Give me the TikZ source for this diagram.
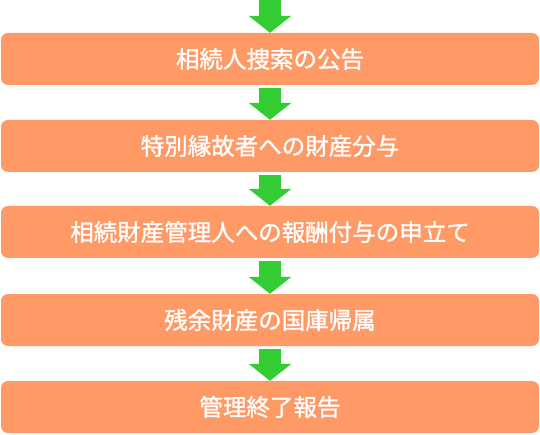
\documentclass[tikz,border=0pt]{standalone}
\usepackage{fontspec}
\setmainfont{Noto Sans CJK JP}
\newfontfamily\stepfont{Noto Sans CJK JP}[FakeBold=1.2]
\usetikzlibrary{arrows.meta}
\definecolor{boxorange}{RGB}{255,153,102}
\definecolor{arrowgreen}{RGB}{51,204,51}

\begin{document}
\begin{tikzpicture}[x=1pt,y=1pt,yscale=-1,xscale=1,
	stepbox/.style={fill=boxorange,rounded corners=7pt,minimum width=538pt,minimum height=52pt,inner sep=0pt,text=white,font=\stepfont\fontsize{23.5}{26}\selectfont},
	flow/.style={draw=arrowgreen,line width=22pt,line cap=butt,-{Triangle[width=42pt,length=17pt,fill=arrowgreen]}}]
				\useasboundingbox (0,0) rectangle (540,435);
				
				% Steps
				\node [stepbox] (s1) at (270,59) {相続人捜索の公告};
				\node [stepbox] (s2) at (270,146) {特別縁故者への財産分与};
				\node [stepbox] (s3) at (270,232) {相続財産管理人への報酬付与の申立て};
				\node [stepbox] (s4) at (270,320) {残余財産の国庫帰属};
				\node [stepbox] (s5) at (270,407) {管理終了報告};
				
				% Arrows
				\coordinate (top) at (270,0);
				\draw [flow] (top) -- (s1.north);
				\draw [flow,shorten <=3pt] (s1.south) -- (s2.north);
				\draw [flow,shorten <=3pt] (s2.south) -- (s3.north);
				\draw [flow,shorten <=3pt] (s3.south) -- (s4.north);
				\draw [flow,shorten <=3pt] (s4.south) -- (s5.north);
\end{tikzpicture}
\end{document}
